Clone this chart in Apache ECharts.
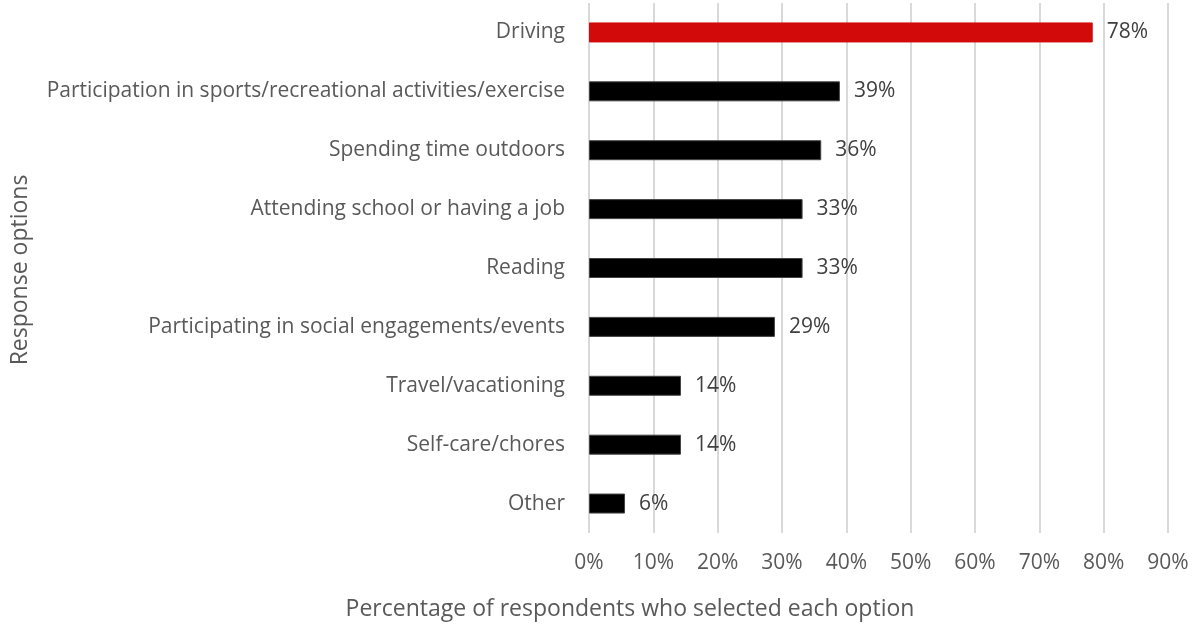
<!DOCTYPE html>
<html>
<head>
<meta charset="utf-8">
<script src="https://cdn.jsdelivr.net/npm/echarts@6/dist/echarts.min.js"></script>
<style>
  html, body { margin: 0; padding: 0; background: #fff; }
  #chart { width: 1203px; height: 627px; }
</style>
</head>
<body>
<div id="chart"></div>
<script>
// 数据
const categories = [
  "Driving",
  "Participation in sports/recreational activities/exercise",
  "Spending time outdoors",
  "Attending school or having a job",
  "Reading",
  "Participating in social engagements/events",
  "Travel/vacationing",
  "Self-care/chores",
  "Other"
];
const values = [78.3, 39.0, 36.1, 33.2, 33.2, 28.9, 14.3, 14.3, 5.6];
const xTicks = [0, 10, 20, 30, 40, 50, 60, 70, 80, 90];

const font = "Open Sans, Liberation Sans, sans-serif";

const option = {
  animation: false,
  grid: { left: 589, right: 35, top: 3, bottom: 94 },
  xAxis: {
    type: "value",
    min: xTicks[0],
    max: xTicks[xTicks.length - 1],
    interval: 10,
    axisLine: { show: false },
    axisTick: { show: false },
    splitLine: { lineStyle: { color: "#d9d9d9", width: 2 } },
    axisLabel: {
      formatter: "{value}%",
      color: "#595959",
      fontSize: 21,
      fontFamily: font,
      margin: 20
    }
  },
  yAxis: {
    type: "category",
    data: categories,
    inverse: true,
    axisLine: { show: false },
    axisTick: { show: false },
    axisLabel: {
      color: "#595959",
      fontSize: 21,
      fontFamily: font,
      margin: 24
    }
  },
  series: [
    {
      type: "bar",
      barWidth: 20,
      data: values.map((v, i) => ({
        value: v,
        itemStyle: {
          color: i === 0 ? "#d20a0a" : "#000000",
          borderColor: i === 0 ? "#d20a0a" : "#444",
          borderWidth: 1
        }
      })),
      label: {
        show: true,
        position: "right",
        distance: 14,
        formatter: (p) => Math.round(p.value) + "%",
        color: "#404040",
        fontSize: 21,
        fontFamily: font
      }
    }
  ],
  graphic: [
    {
      type: "text",
      x: 630,
      y: 609,
      style: {
        text: "Percentage of respondents who selected each option",
        fill: "#595959",
        font: "23px " + font,
        textAlign: "center",
        textVerticalAlign: "middle"
      }
    },
    {
      type: "text",
      x: 20,
      y: 270,
      rotation: Math.PI / 2,
      style: {
        text: "Response options",
        fill: "#595959",
        font: "23px " + font,
        textAlign: "center",
        textVerticalAlign: "middle"
      }
    }
  ]
};

echarts.init(document.getElementById("chart")).setOption(option);
</script>
</body>
</html>
